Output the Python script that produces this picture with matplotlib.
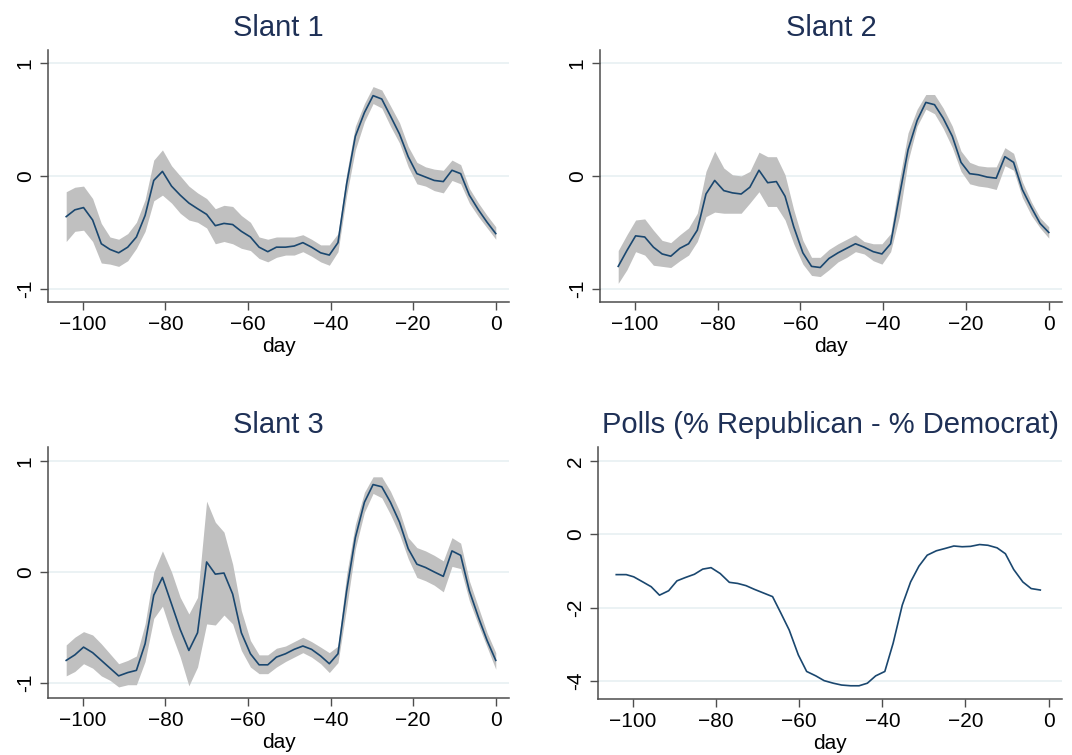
import numpy as np
import matplotlib.pyplot as plt

plt.rcParams['font.family'] = ['Liberation Sans', 'DejaVu Sans']

# day grid for the slant series
days = [-104.0, -101.9, -99.8, -97.6, -95.5, -93.4, -91.3, -89.1, -87.0, -84.9,
        -82.8, -80.7, -78.5, -76.4, -74.3, -72.2, -70.0, -67.9, -65.8, -63.7,
        -61.6, -59.4, -57.3, -55.2, -53.1, -50.9, -48.8, -46.7, -44.6, -42.4,
        -40.3, -38.2, -36.1, -34.0, -31.8, -29.7, -27.6, -25.5, -23.3, -21.2,
        -19.1, -17.0, -14.9, -12.7, -10.6, -8.5, -6.4, -4.2, -2.1, 0.0]

slant1 = [-0.36, -0.30, -0.28, -0.39, -0.60, -0.65, -0.68, -0.63, -0.54, -0.35,
          -0.04, 0.04, -0.09, -0.17, -0.24, -0.29, -0.34, -0.44, -0.42, -0.43,
          -0.49, -0.54, -0.63, -0.67, -0.63, -0.63, -0.62, -0.59, -0.63, -0.68,
          -0.70, -0.59, -0.07, 0.35, 0.56, 0.71, 0.68, 0.53, 0.37, 0.17,
          0.02, -0.01, -0.04, -0.05, 0.05, 0.02, -0.17, -0.30, -0.41, -0.51]
slant1_hi = [-0.14, -0.10, -0.09, -0.20, -0.42, -0.54, -0.56, -0.51, -0.41, -0.21,
             0.14, 0.23, 0.09, 0.00, -0.09, -0.15, -0.20, -0.29, -0.26, -0.27,
             -0.35, -0.41, -0.54, -0.56, -0.54, -0.54, -0.54, -0.52, -0.56, -0.61,
             -0.61, -0.51, 0.02, 0.44, 0.64, 0.79, 0.76, 0.62, 0.47, 0.26,
             0.12, 0.08, 0.06, 0.05, 0.14, 0.10, -0.11, -0.24, -0.35, -0.45]
slant1_lo = [-0.58, -0.49, -0.48, -0.58, -0.77, -0.78, -0.80, -0.75, -0.64, -0.49,
             -0.22, -0.17, -0.24, -0.33, -0.39, -0.41, -0.46, -0.60, -0.58, -0.60,
             -0.64, -0.66, -0.73, -0.76, -0.72, -0.70, -0.70, -0.67, -0.71, -0.76,
             -0.79, -0.67, -0.17, 0.23, 0.48, 0.64, 0.60, 0.44, 0.29, 0.08,
             -0.07, -0.09, -0.13, -0.15, -0.04, -0.07, -0.24, -0.36, -0.46, -0.56]

slant2 = [-0.80, -0.66, -0.53, -0.54, -0.63, -0.69, -0.71, -0.64, -0.60, -0.48,
          -0.16, -0.04, -0.13, -0.15, -0.16, -0.10, 0.05, -0.06, -0.05, -0.18,
          -0.45, -0.68, -0.80, -0.81, -0.73, -0.68, -0.64, -0.60, -0.63, -0.67,
          -0.69, -0.60, -0.18, 0.23, 0.49, 0.65, 0.63, 0.51, 0.35, 0.12,
          0.02, 0.01, -0.01, -0.02, 0.17, 0.12, -0.12, -0.28, -0.42, -0.50]
slant2_hi = [-0.66, -0.52, -0.39, -0.38, -0.48, -0.57, -0.59, -0.52, -0.46, -0.33,
             0.04, 0.22, 0.07, 0.01, 0.00, 0.04, 0.21, 0.17, 0.17, 0.01,
             -0.30, -0.57, -0.72, -0.72, -0.65, -0.60, -0.56, -0.52, -0.58, -0.60,
             -0.60, -0.51, -0.04, 0.38, 0.59, 0.72, 0.72, 0.60, 0.44, 0.22,
             0.12, 0.09, 0.08, 0.08, 0.25, 0.20, -0.05, -0.23, -0.37, -0.45]
slant2_lo = [-0.95, -0.83, -0.67, -0.70, -0.79, -0.80, -0.81, -0.75, -0.70, -0.58,
             -0.36, -0.32, -0.33, -0.33, -0.33, -0.24, -0.14, -0.27, -0.27, -0.39,
             -0.60, -0.78, -0.88, -0.89, -0.83, -0.76, -0.72, -0.67, -0.69, -0.75,
             -0.78, -0.67, -0.36, 0.13, 0.44, 0.59, 0.55, 0.42, 0.25, 0.04,
             -0.07, -0.09, -0.10, -0.12, 0.09, 0.05, -0.19, -0.35, -0.46, -0.55]

slant3 = [-0.80, -0.75, -0.68, -0.73, -0.80, -0.87, -0.94, -0.91, -0.89, -0.65,
          -0.21, -0.05, -0.29, -0.52, -0.71, -0.55, 0.09, -0.02, -0.01, -0.20,
          -0.55, -0.74, -0.84, -0.84, -0.77, -0.74, -0.70, -0.67, -0.70, -0.76,
          -0.83, -0.74, -0.17, 0.31, 0.63, 0.79, 0.77, 0.63, 0.45, 0.21,
          0.07, 0.04, 0.00, -0.04, 0.19, 0.15, -0.17, -0.41, -0.62, -0.80]
slant3_hi = [-0.66, -0.59, -0.54, -0.57, -0.65, -0.74, -0.83, -0.80, -0.76, -0.47,
             0.00, 0.19, 0.00, -0.23, -0.38, -0.23, 0.64, 0.45, 0.36, 0.07,
             -0.35, -0.62, -0.75, -0.75, -0.69, -0.67, -0.63, -0.59, -0.63, -0.68,
             -0.73, -0.67, -0.02, 0.43, 0.72, 0.86, 0.86, 0.73, 0.55, 0.31,
             0.22, 0.19, 0.15, 0.10, 0.31, 0.26, -0.08, -0.32, -0.55, -0.73]
slant3_lo = [-0.94, -0.90, -0.83, -0.87, -0.94, -0.98, -1.04, -1.02, -1.02, -0.81,
             -0.42, -0.31, -0.56, -0.77, -1.03, -0.86, -0.47, -0.48, -0.39, -0.47,
             -0.71, -0.86, -0.92, -0.92, -0.86, -0.81, -0.77, -0.73, -0.77, -0.83,
             -0.91, -0.82, -0.32, 0.21, 0.54, 0.71, 0.67, 0.52, 0.34, 0.12,
             -0.05, -0.08, -0.12, -0.18, 0.05, 0.03, -0.26, -0.48, -0.68, -0.88]

# poll margin, Republican minus Democrat
poll_days = [-104.0, -101.6, -99.8, -97.6, -95.6, -93.6, -91.4, -89.4, -87.4, -85.2,
             -83.2, -81.2, -79.0, -76.8, -74.8, -72.8, -70.8, -68.6, -66.4, -64.4,
             -62.4, -60.2, -58.2, -56.0, -54.0, -51.8, -49.8, -47.6, -45.6, -43.6,
             -41.6, -39.4, -37.4, -35.2, -33.2, -31.2, -29.2, -27.0, -25.0, -22.8,
             -20.8, -18.8, -16.6, -14.6, -12.4, -10.4, -8.4, -6.2, -4.2, -2.0]
polls = [-1.10, -1.10, -1.16, -1.30, -1.43, -1.66, -1.54, -1.27, -1.18, -1.09,
         -0.95, -0.91, -1.07, -1.31, -1.34, -1.40, -1.50, -1.60, -1.70, -2.15,
         -2.61, -3.29, -3.74, -3.86, -3.99, -4.06, -4.11, -4.13, -4.13, -4.06,
         -3.86, -3.74, -2.97, -1.93, -1.30, -0.87, -0.57, -0.45, -0.39, -0.32,
         -0.34, -0.33, -0.28, -0.30, -0.37, -0.53, -0.96, -1.30, -1.48, -1.52]

xticks = [-100, -80, -60, -40, -20, 0]
navy = '#1a476f'
band = '#c0c0c0'
title_col = '#1e3056'
grid_col = '#e8f0f2'
spine_col = '#4d4d4d'

fig = plt.figure(figsize=(10.72, 7.55), dpi=100)
ax1 = fig.add_axes([0.0448, 0.600, 0.430, 0.334])
ax2 = fig.add_axes([0.5597, 0.600, 0.431, 0.334])
ax3 = fig.add_axes([0.0448, 0.0755, 0.430, 0.3325])
ax4 = fig.add_axes([0.5578, 0.0742, 0.4328, 0.3338])


def style(ax, title, yticks, ylim):
    ax.set_xlim(-108.4, 3.2)
    ax.set_ylim(*ylim)
    ax.set_xticks(xticks)
    ax.set_yticks(yticks)
    ax.set_yticklabels([str(t) for t in yticks], rotation=90, va='center')
    for s in ['top', 'right']:
        ax.spines[s].set_visible(False)
    for s in ['left', 'bottom']:
        ax.spines[s].set_color(spine_col)
        ax.spines[s].set_linewidth(1.1)
    ax.tick_params(axis='both', direction='out', length=5.5, width=1.0,
                   color=spine_col, labelsize=15, labelcolor='black')
    ax.tick_params(axis='x', pad=4)
    ax.tick_params(axis='y', pad=4)
    ax.grid(axis='y', color=grid_col, linewidth=1.2)
    ax.set_axisbelow(True)
    ax.set_xlabel('day', fontsize=15, labelpad=2)
    ax.set_title(title, fontsize=21, color=title_col, pad=10)


panels = [(ax1, 'Slant 1', slant1, slant1_lo, slant1_hi),
          (ax2, 'Slant 2', slant2, slant2_lo, slant2_hi),
          (ax3, 'Slant 3', slant3, slant3_lo, slant3_hi)]
for ax, title, mid, lo, hi in panels:
    ax.fill_between(days, lo, hi, color=band, linewidth=0, zorder=2)
    ax.plot(days, mid, color=navy, linewidth=1.2, zorder=3)
    lim = (-1.14, 1.13) if ax is ax3 else (-1.115, 1.115)
    style(ax, title, [-1, 0, 1], lim)

ax4.plot(poll_days, polls, color=navy, linewidth=1.2, zorder=3)
style(ax4, 'Polls (% Republican - % Democrat)', [-4, -2, 0, 2], (-4.49, 2.38))

fig.savefig('out.png', dpi=100, facecolor='white')
